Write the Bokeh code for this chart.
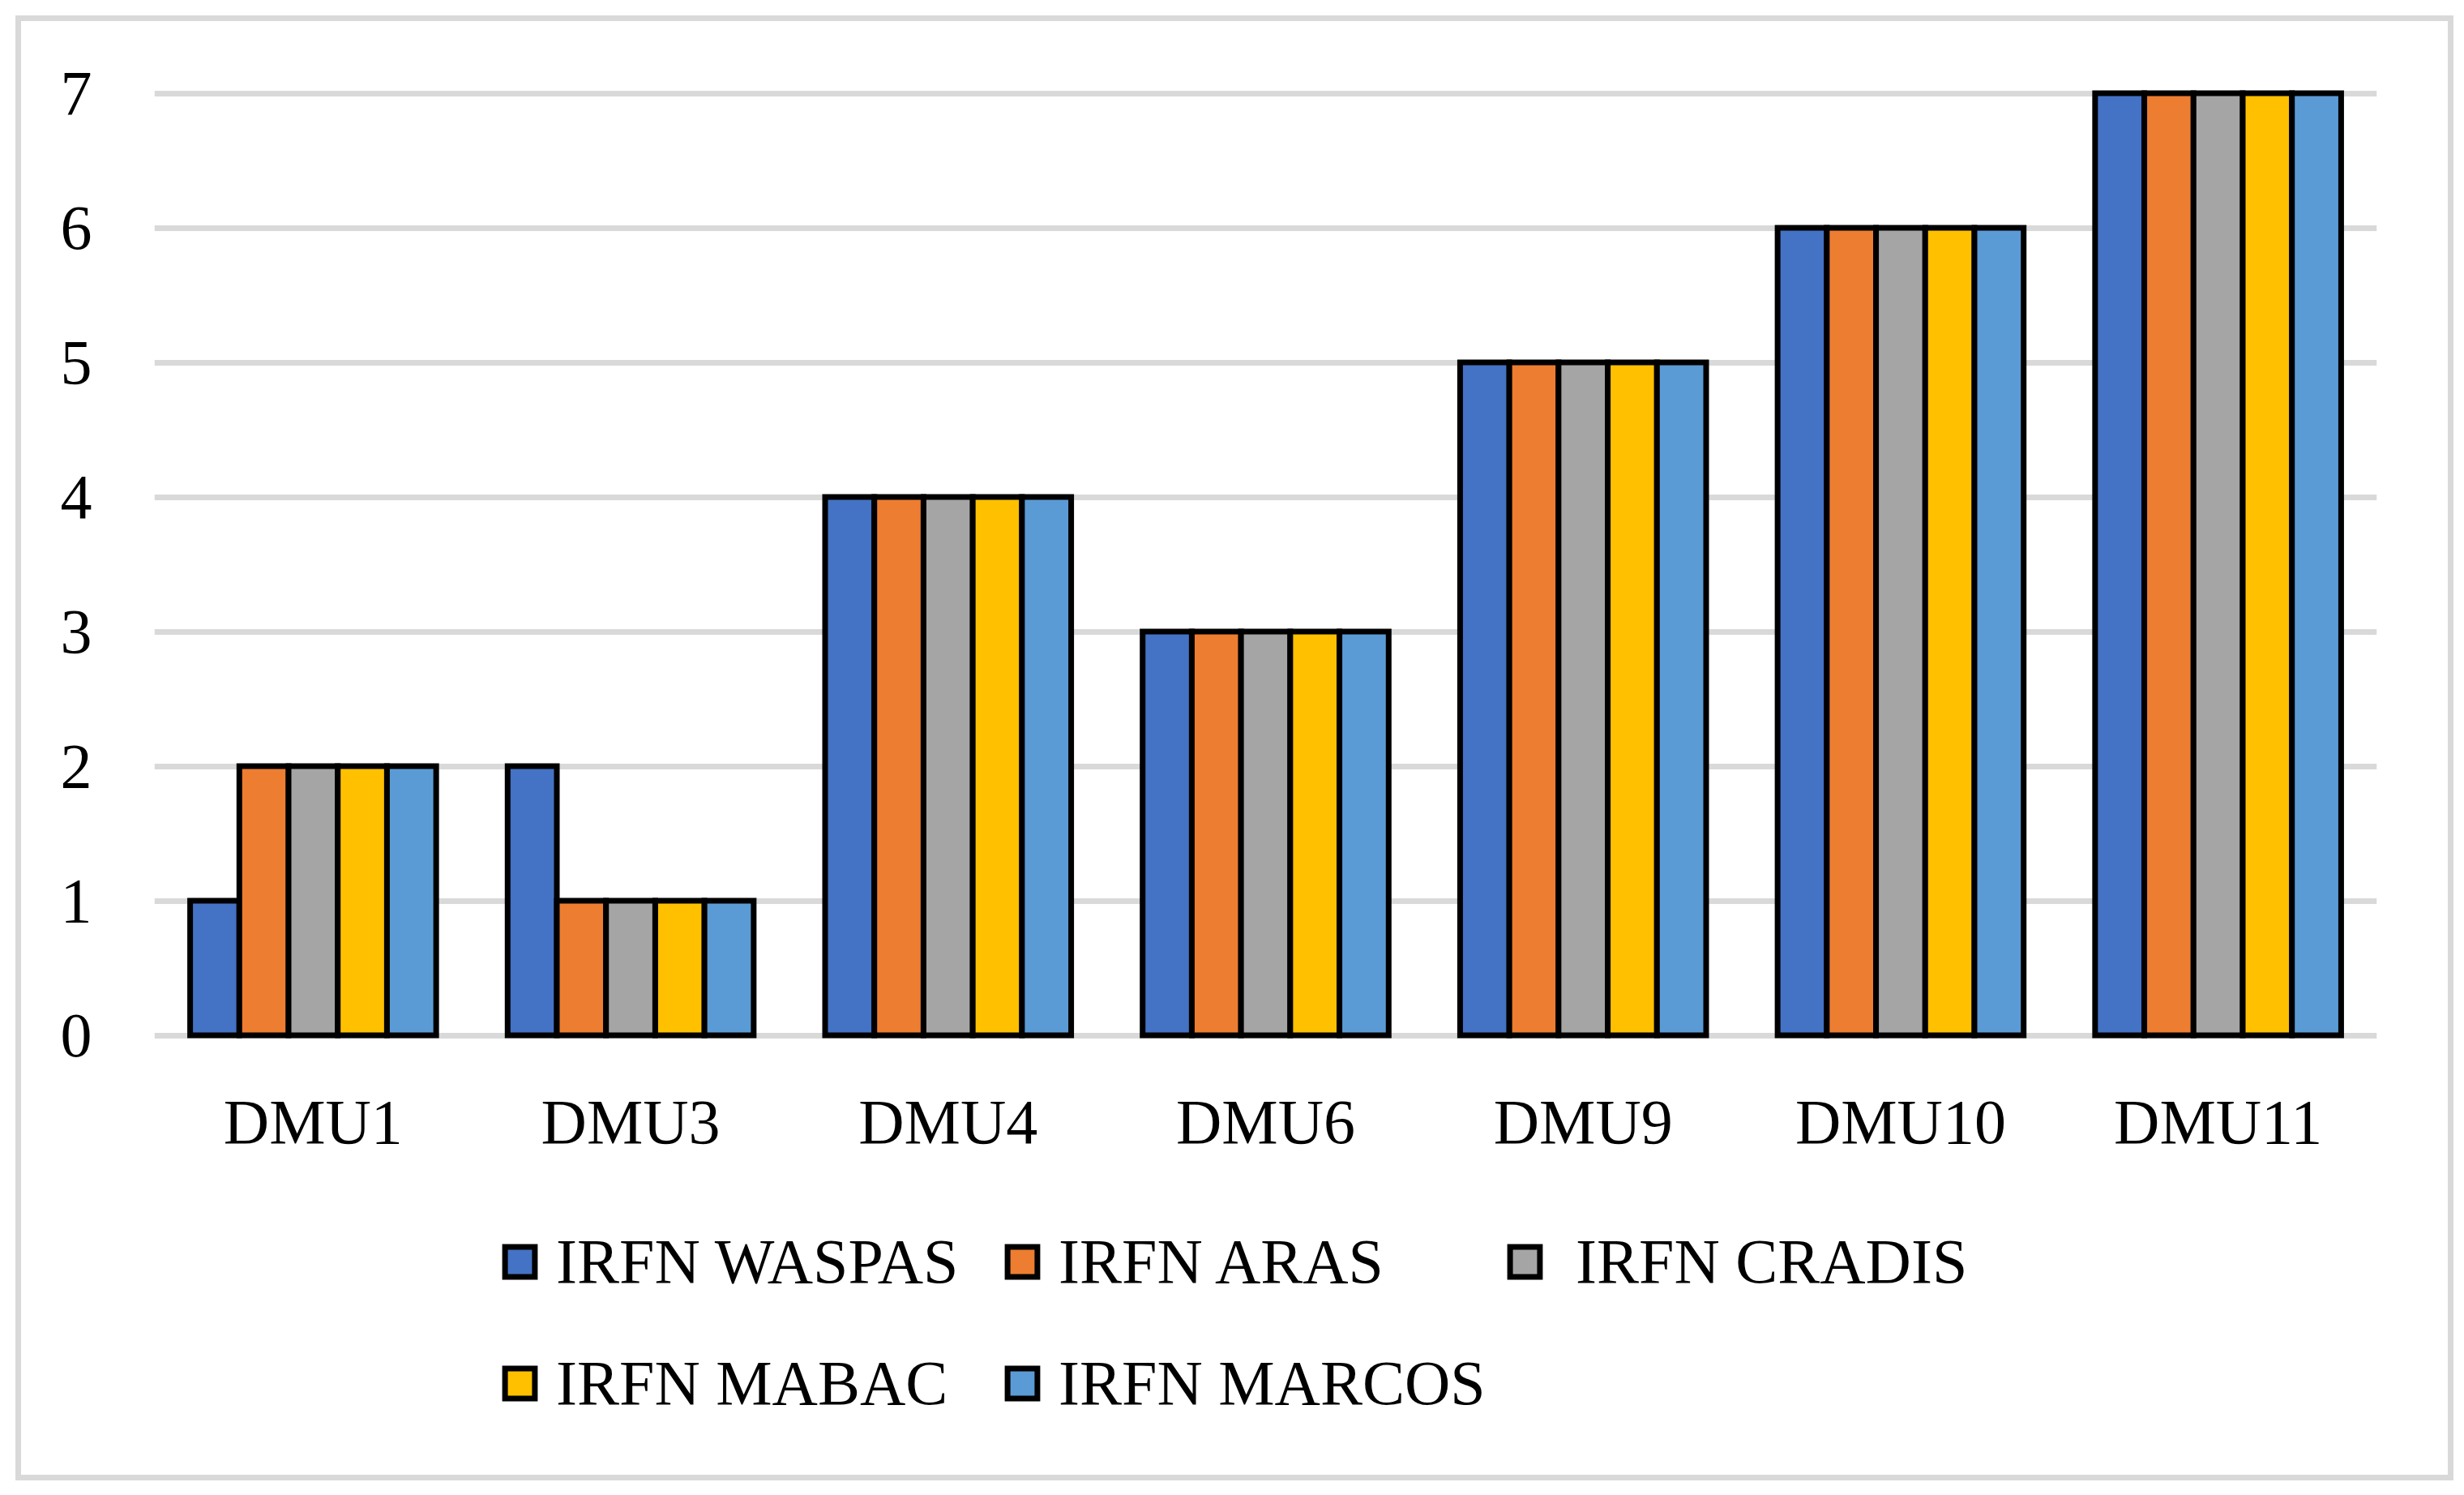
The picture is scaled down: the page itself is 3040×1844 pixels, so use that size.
from bokeh.plotting import figure
from bokeh.layouts import column
from bokeh.models import (ColumnDataSource, FactorRange, Range1d, Legend, LegendItem,
                          FixedTicker)
from bokeh.transform import dodge
from bokeh.embed import file_html
from bokeh.resources import INLINE

# ---- data ----
dmus = ["DMU1", "DMU3", "DMU4", "DMU6", "DMU9", "DMU10", "DMU11"]
irfn_waspas = [1, 2, 4, 3, 5, 6, 7]
irfn_aras = [2, 1, 4, 3, 5, 6, 7]
irfn_cradis = [2, 1, 4, 3, 5, 6, 7]
irfn_mabac = [2, 1, 4, 3, 5, 6, 7]
irfn_marcos = [2, 1, 4, 3, 5, 6, 7]
series_names = ["IRFN WASPAS", "IRFN ARAS", "IRFN CRADIS", "IRFN MABAC", "IRFN MARCOS"]
y_ticks = [0, 1, 2, 3, 4, 5, 6, 7]

colors = ["#4472C4", "#ED7D31", "#A5A5A5", "#FFC000", "#5B9BD5"]
FONT = "Liberation Serif"
FS = "78px"

src = ColumnDataSource(dict(dmu=dmus, s0=irfn_waspas, s1=irfn_aras, s2=irfn_cradis,
                            s3=irfn_mabac, s4=irfn_marcos))

OFF = 26  # figure offset inside the bordered wrapper
TOTAL_W = 2994
fl, fr, ft, fb = 190 - OFF, 2932 - OFF, 80 - OFF, 1300 - OFF  # frame in figure px
FW, FH = fr - fl, fb - ft
px_per_unit = 166.0
y0_px = 1276.5 - OFF
y_end = 7 + ((y0_px - 7 * px_per_unit) - ft) / px_per_unit
y_start = -(fb - y0_px) / px_per_unit

p = figure(frame_width=FW, frame_height=FH, x_range=FactorRange(*dmus, range_padding=0),
           y_range=Range1d(y_start, y_end), output_backend="svg", toolbar_location=None,
           min_border_left=fl, min_border_right=TOTAL_W - fr, min_border_top=ft,
           min_border_bottom=200)
p.outline_line_color = None
p.background_fill_color = "white"
p.border_fill_color = "white"

p.xgrid.grid_line_color = None
p.ygrid.grid_line_color = "#D9D9D9"
p.ygrid.grid_line_width = 7
p.ygrid.ticker = FixedTicker(ticks=y_ticks)

p.yaxis.ticker = FixedTicker(ticks=y_ticks)
for ax in (p.xaxis[0], p.yaxis[0]):
    ax.axis_line_color = None
    ax.major_tick_line_color = None
    ax.minor_tick_line_color = None
    ax.major_tick_out = 0
    ax.major_tick_in = 0
    ax.major_label_text_font = FONT
    ax.major_label_text_font_size = FS
    ax.major_label_text_color = "black"
p.yaxis.major_label_standoff = 77
p.xaxis.major_label_standoff = 39

bw = 0.155
for i in range(5):
    p.vbar(x=dodge("dmu", (i - 2) * bw, range=p.x_range), top="s%d" % i, bottom=0,
           width=bw, source=src, fill_color=colors[i], line_color="black",
           line_width=7, line_join="miter")

# ---- legend strip (same series styling; its renderers are hidden) ----
LH = 319
p2 = figure(frame_width=TOTAL_W, frame_height=LH, x_range=p.x_range,
            y_range=Range1d(100, 101), output_backend="svg", toolbar_location=None,
            x_axis_location=None, y_axis_location=None, min_border=0)
p2.outline_line_color = None
p2.background_fill_color = "white"
p2.border_fill_color = "white"
p2.grid.visible = False

leg_renderers = []
for i in range(5):
    r = p2.vbar(x=dodge("dmu", (i - 2) * bw, range=p2.x_range), top="s%d" % i, bottom=0,
                width=bw, source=src, fill_color=colors[i], line_color="black",
                line_width=7, line_join="miter")
    r.visible = False
    leg_renderers.append(r)

leg_pos = [(592, 218, 22), (1212, 218, 22), (1832, 218, 40),
           (592, 68, 22), (1212, 68, 22)]
for i, (lx, ly, so) in enumerate(leg_pos):
    lg = Legend(items=[LegendItem(label=series_names[i], renderers=[leg_renderers[i]])],
                location=(lx, ly), orientation="horizontal",
                glyph_width=46, glyph_height=46, label_height=46, label_standoff=so,
                label_text_font=FONT, label_text_font_size=FS, label_text_color="black",
                inactive_fill_alpha=0,
                padding=0, margin=0, spacing=0, border_line_color=None,
                background_fill_alpha=0)
    p2.add_layout(lg, "center")

layout = column(p, p2, spacing=0,
                styles={"border": "7px solid #D9D9D9", "margin": "19px"})

open("out.html", "w").write(file_html(layout, INLINE))
